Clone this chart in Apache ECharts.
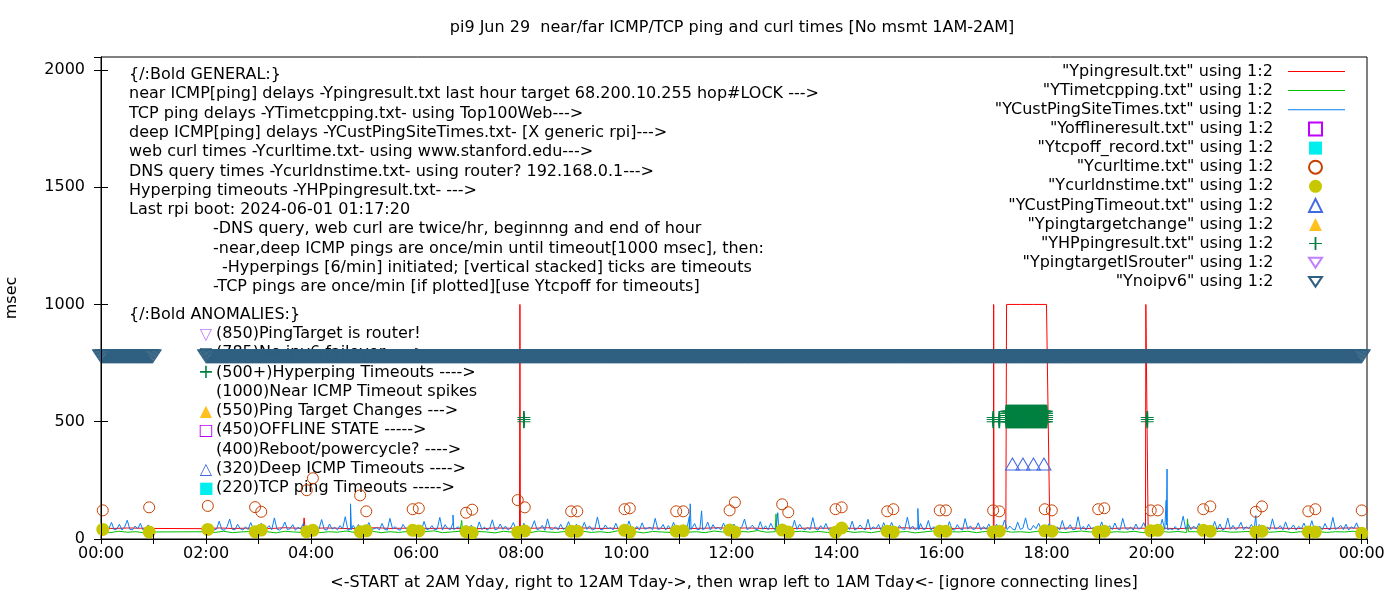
<!DOCTYPE html>
<html><head><meta charset="utf-8">
<script src="https://cdn.jsdelivr.net/npm/echarts@6/dist/echarts.min.js"></script>
<style>html,body{margin:0;padding:0;background:#fff}#c{width:1400px;height:600px}</style>
</head><body><div id="c"></div>
<script>
// ---------------- DATA ----------------
const titleText = 'pi9 Jun 29  near/far ICMP/TCP ping and curl times [No msmt 1AM-2AM]';
const xAxisName = '<-START at 2AM Yday, right to 12AM Tday->, then wrap left to 1AM Tday<- [ignore connecting lines]';
const yAxisName = 'msec';

const seriesNames = [
  '"Ypingresult.txt" using 1:2',
  '"YTimetcpping.txt" using 1:2',
  '"YCustPingSiteTimes.txt" using 1:2',
  '"Yofflineresult.txt" using 1:2',
  '"Ytcpoff_record.txt" using 1:2',
  '"Ycurltime.txt" using 1:2',
  '"Ycurldnstime.txt" using 1:2',
  '"YCustPingTimeout.txt" using 1:2',
  '"Ypingtargetchange" using 1:2',
  '"YHPpingresult.txt" using 1:2',
  '"YpingtargetISrouter" using 1:2',
  '"Ynoipv6" using 1:2'
];

const generalLines = [
  '{/:Bold GENERAL:}',
  'near ICMP[ping] delays -Ypingresult.txt last hour target 68.200.10.255 hop#LOCK --->',
  'TCP ping delays -YTimetcpping.txt- using Top100Web--->',
  'deep ICMP[ping] delays -YCustPingSiteTimes.txt- [X generic rpi]--->',
  'web curl times -Ycurltime.txt- using www.stanford.edu--->',
  'DNS query times -Ycurldnstime.txt- using router? 192.168.0.1--->',
  'Hyperping timeouts -YHPpingresult.txt- --->',
  'Last rpi boot: 2024-06-01 01:17:20',
  '-DNS query, web curl are twice/hr, beginnng and end of hour',
  '-near,deep ICMP pings are once/min until timeout[1000 msec], then:',
  '-Hyperpings [6/min] initiated; [vertical stacked] ticks are timeouts',
  '-TCP pings are once/min [if plotted][use Ytcpoff for timeouts]'
];
const anomalyTitle = '{/:Bold ANOMALIES:}';
const anomalyLines = [
  '(850)PingTarget is router!',
  '(785)No ipv6 failover ---->',
  '(500+)Hyperping Timeouts ---->',
  '(1000)Near ICMP Timeout spikes',
  '(550)Ping Target Changes --->',
  '(450)OFFLINE STATE ----->',
  '(400)Reboot/powercycle? ---->',
  '(320)Deep ICMP Timeouts ---->',
  '(220)TCP ping Timeouts ----->'
];
const anomalyGlyphs = ['▽','▽','+','','▲','□','','△','■'];

// near ICMP (red) sampled every 15 min from 00:00, null = no measurement
const redBase = [
46,45,47,46, 45,null,null,null, 44,47,45,46, 46,45,48,46,
45,47,46,44, 46,48,45,46, 47,45,46,45, 46,44,47,46,
45,46,48,45, 46,47,45,46, 44,46,47,45, 46,45,46,48,
45,47,46,44, 46,45,47,46, 47,46,45,46, 45,48,46,45,
46,45,47,46, 45,1000,1000,1000, 1000,46,47,45, 46,45,47,46,
45,46,44,47, 46,45,46,48, 45,47,46,45, 46,44,46,47,
46];
const redEvents = [
  ['03:51',46],['03:52',90],['03:53',46],
  ['07:58',46],['07:58.5',1000],['07:59',46],
  ['16:59.2',46],['16:59.6',1000],['17:00.2',46],
  ['17:13.5',46],['17:14.3',1000],['17:59.9',1000],['18:03.7',46],
  ['19:53',46],['19:53.4',1000],['19:56',46]
];

// TCP ping (green) sampled every 10 min
const greenBase = [
31,27,33,29,31,26, 30,null,null,null,null,null, 31,28,33,27,30,32, 29,31,26,33,30,28,
32,27,31,29,34,28, 30,33,27,31,28,32, 29,31,35,27,30,33, 28,32,30,26,33,29,
31,27,34,30,28,32, 30,33,28,31,27,35, 29,31,26,32,30,28, 33,29,31,27,34,30,
28,32,30,36,29,31, 27,31,33,29,32,28, 30,34,28,31,27,33, 31,29,32,26,30,34,
28,31,30,33,27,32, 30,36,29,31,28,33, 29,32,27,31,34,30, 32,28,31,29,33,27,
30,33,29,32,28,31, 27,31,34,29,30,32, 31,28,30,33,27,31, 29,32,28,31,30,33,
30];
const greenEvents = [
  ['06:51',31],['06:52',79],['06:53',31],
  ['12:50',31],['12:51',107],['12:52',31],
  ['17:08',31],['17:09',55],['17:10',31],
  ['20:40',31],['20:41',86],['20:42',31]
];

// deep ICMP (blue) sampled every 3 min
const blueBase = [
40,58,37,44,71,39,42,63,38,51,80,41,39,55,43,67,38,46,60,41,
null,null,null,null,null,null,null,null,null,null,null,null,null,null,null,null,null,null,null,null,
39,47,58,38,42,76,40,37,53,85,41,39,63,44,38,52,40,70,43,39,
41,68,38,45,57,39,90,42,38,47,72,40,44,61,37,50,42,66,39,45,
40,55,39,43,83,41,38,64,42,50,39,57,44,95,38,41,58,40,62,43,
37,49,70,40,44,48,39,66,41,38,88,43,53,40,38,62,45,41,57,39,
41,49,38,75,40,43,57,39,42,92,38,61,45,40,68,37,52,42,46,58,
44,59,40,38,73,41,51,38,46,82,39,43,64,41,55,38,48,70,40,45,
38,67,42,39,49,78,40,44,58,37,86,43,40,52,39,63,41,47,74,40,
45,63,39,42,71,41,56,38,43,94,42,39,60,44,48,39,67,41,52,40,
40,77,43,39,54,38,69,42,45,50,39,88,41,44,62,38,57,42,71,40,
38,57,44,40,96,41,66,39,42,55,45,72,38,61,43,49,39,68,41,58,
41,64,38,43,52,85,40,47,59,43,39,74,41,56,39,67,44,40,53,45,
39,55,42,38,80,41,63,45,39,49,40,91,43,38,57,42,66,39,48,44,
44,68,39,41,53,40,76,38,45,60,46,39,84,40,52,43,62,38,70,41,
38,71,42,39,58,44,40,93,41,55,39,47,66,41,43,79,38,52,45,60,
43,50,39,74,41,38,61,44,38,87,42,56,40,45,69,39,53,41,64,40,
42,63,39,45,81,40,55,43,38,72,41,46,90,43,39,58,44,67,40,52,
39,66,44,40,52,38,79,41,45,61,39,42,95,40,54,38,63,44,49,41,
41,73,38,44,57,40,68,43,39,88,45,41,51,38,64,42,47,70,39,55,
40,59,42,38,84,41,70,44,39,53,38,46,97,41,62,40,55,43,66,39,
43,56,39,41,75,40,64,38,45,89,41,58,40,47,71,39,52,44,62,40,
38,62,44,40,51,39,86,42,46,57,39,73,41,45,60,38,54,43,68,41,
41,78,38,43,55,40,66,44,39,92,41,48,58,40,63,38,52,45,69,41,
40];
const blueEvents = [
  ['04:44',40],['04:45',150],['04:46',40],
  ['06:41',40],['06:42',102],['06:43',40],
  ['11:12',40],['11:13',150],['11:14',40],
  ['11:25',40],['11:26',120],['11:27',40],
  ['12:52',40],['12:53',112],['12:54',40],
  ['15:32',40],['15:33',130],['15:34',40],
  ['20:16',40],['20:16.6',165],['20:17',60],['20:17.6',298],['20:18.2',40],
  ['21:58',40],['21:59',100],['22:00',40]
];

// web curl (circles) and DNS query (dots), same timestamps
const curlTimes = ['00:02','00:55','02:02','02:56','03:03','03:55','04:02','04:56','05:03','05:56','06:03','06:57','07:04','07:56','08:04','08:57','09:04','09:58','10:04','10:57','11:05','11:58','12:04','12:58','13:05','13:59','14:06','14:58','15:05','15:58','16:05','16:59','17:06','17:58','18:06','18:59','19:06','19:59','20:07','20:59','21:07','21:59','22:06','22:59','23:07','24:00'];
const curlValues = [122,135,141,136,116,208,259,186,118,127,131,112,125,166,135,118,118,127,131,118,118,122,156,148,114,127,135,118,127,122,122,122,118,127,122,127,131,122,122,127,139,116,139,118,127,122];
const dnsValues  = [41,30,41,31,38,31,37,31,35,37,34,31,27,29,34,33,33,37,30,33,35,38,30,38,30,29,47,33,30,33,33,30,33,35,33,30,33,35,37,37,33,30,33,30,30,24];

// deep ICMP timeouts
const deepTimeoutTimes = ['17:21','17:33','17:45','17:57'];
const deepTimeoutValue = 320;

// hyperping timeouts: [minute, number of stacked timeouts]
const hpLevels = [500,509,518,527,536,545];
const hpBursts = [
  ['08:03',3],['16:59',3],['17:06',3],
  ['17:14',6],['17:15',6],['17:16',6],['17:17',6],['17:18',6],['17:19',6],['17:20',6],['17:21',6],['17:22',6],['17:23',6],
  ['17:24',6],['17:25',6],['17:26',6],['17:27',6],['17:28',6],['17:29',6],['17:30',6],['17:31',6],['17:32',6],['17:33',6],
  ['17:34',6],['17:35',6],['17:36',6],['17:37',6],['17:38',6],['17:39',6],['17:40',6],['17:41',6],['17:42',6],['17:43',6],
  ['17:44',6],['17:45',6],['17:46',6],['17:47',6],['17:48',6],['17:49',6],['17:50',6],['17:51',6],['17:52',6],['17:53',6],
  ['17:54',6],['17:55',6],['17:56',6],['17:57',6],['17:58',6],['17:59',6],['18:00',6],
  ['19:55',3]
];

// no-ipv6 status: recorded once per minute during these spans
const noipv6Spans = [['00:00','00:59'],['02:00','24:00']];
const noipv6Value = 785;

// ---------------- BUILD ----------------
const FONT = 'DejaVu Sans';
const FS = 16;
const hrs = s => { const p = s.split(':'); return (+p[0]) + (+p[1]) / 60; };
const sampled = (vals, stepMin) => vals.map((v, i) => [i * stepMin / 60, v]);
const merge = (base, ev) => base.concat(ev.map(e => [hrs(e[0]), e[1]])).sort((a, b) => a[0] - b[0]);

const redData = merge(sampled(redBase, 15), redEvents);
const greenData = merge(sampled(greenBase, 10), greenEvents);
const blueData = merge(sampled(blueBase, 3), blueEvents);
const curlData = curlTimes.map((t, i) => [hrs(t), curlValues[i]]);
const dnsData = curlTimes.map((t, i) => [hrs(t), dnsValues[i]]);
const deepData = deepTimeoutTimes.map(t => [hrs(t), deepTimeoutValue]);
const hpData = [];
hpBursts.forEach(([t, n]) => { for (let k = 0; k < n; k++) hpData.push([hrs(t), hpLevels[k]]); });
const noipv6Data = [];
noipv6Spans.forEach(([a, b]) => { for (let m = Math.round(hrs(a) * 60); m <= Math.round(hrs(b) * 60); m++) noipv6Data.push([m / 60, noipv6Value]); });

const CLEAR = 'rgba(0,0,0,0)';
const PLUS = 'path://M0,6L13,6L13,7L0,7ZM5.6,0L7.4,0L7.4,13L5.6,13Z';
const TRI_DOWN = 'path://M0,0L16,0L8,12Z';

const lineS = (name, color, data, connect) => ({
  name, type: 'line', data, symbol: 'none', showSymbol: false, connectNulls: connect,
  lineStyle: { color, width: 1 }, itemStyle: { color }, z: 2, animation: false, silent: true
});
const scat = (name, symbol, size, fill, stroke, data, extra) => Object.assign({
  name, type: 'scatter', data, symbol, symbolSize: size,
  itemStyle: { color: fill, borderColor: stroke || fill, borderWidth: stroke ? 1 : 0, opacity: 1 },
  progressive: 0, large: false, z: 3, animation: false, silent: true
}, extra || {});

const series = [
  lineS(seriesNames[0], '#ff0000', redData, true),
  lineS(seriesNames[1], '#00c000', greenData, true),
  lineS(seriesNames[2], '#0a7ff5', blueData, false),
  scat(seriesNames[3], 'rect', 12, CLEAR, '#c000ff', []),
  scat(seriesNames[4], 'rect', 12, '#00eeee', null, []),
  scat(seriesNames[5], 'circle', 11, CLEAR, '#c84000', curlData),
  scat(seriesNames[6], 'circle', 13, '#c8c800', null, dnsData),
  scat(seriesNames[7], 'triangle', [14, 12], CLEAR, '#4169e1', deepData),
  scat(seriesNames[8], 'triangle', [15, 13], '#ffc020', null, []),
  scat(seriesNames[9], PLUS, 13, '#008040', null, hpData),
  scat(seriesNames[10], TRI_DOWN, [15, 12], CLEAR, '#c080ff', []),
  scat(seriesNames[11], TRI_DOWN, [17, 13], CLEAR, '#306080', noipv6Data, { symbolOffset: [0, 1.5], z: 4 }),
  // carrier for the mirrored top / right tick axes
  { type: 'line', name: '_mirror', xAxisIndex: 1, yAxisIndex: 1, data: [], silent: true }
];

// text annotations
const graphic = [];
const txtStyle = (t, fill, size, align) => ({ text: t, fill, fontSize: size, fontFamily: FONT, verticalAlign: 'middle', align });
const genY0 = 75, genStep = 19.27, genIndent = [0,0,0,0,0,0,0,0,84,84,93,84];
generalLines.forEach((t, i) => graphic.push({
  type: 'text', x: 129 + genIndent[i], y: genY0 + genStep * i, z: 1, silent: true, style: txtStyle(t, '#000', FS, 'left')
}));
graphic.push({ type: 'text', x: 129, y: 315, z: 1, silent: true, style: txtStyle(anomalyTitle, '#000', FS, 'left') });
const glyphColors = ['#c080ff','#306080','#008040','','#ffc020','#c000ff','','#4169e1','#00eeee'];
anomalyLines.forEach((t, i) => {
  const y = 334 + 19.25 * i;
  graphic.push({ type: 'text', x: 216, y, z: 1, silent: true, style: txtStyle(t, '#000', FS, 'left') });
  if (anomalyGlyphs[i]) graphic.push({ type: 'text', x: 206, y: y + 1, z: 1, silent: true,
    style: txtStyle(anomalyGlyphs[i], glyphColors[i], anomalyGlyphs[i] === '+' ? 19 : 16, 'center') });
});

const axisTxt = { color: '#000', fontSize: FS, fontFamily: FONT };
const xFmt = v => { const r = Math.round(v); return (Math.abs(v - r) < 1e-6 && r % 2 === 0) ? String(r % 24).padStart(2, '0') + ':00' : ''; };
const yFmt = v => (v % 500 === 0) ? String(v) : '';
const black = { color: '#000', width: 1 };
const legendText = { fontSize: FS, fontFamily: FONT, color: '#000' };

const option = {
  animation: false,
  backgroundColor: '#fff',
  textStyle: { fontFamily: FONT },
  title: { text: titleText, left: 727, top: 15, textAlign: 'center',
    textStyle: { fontSize: FS, fontWeight: 'normal', fontFamily: FONT, color: '#000' } },
  grid: { left: 101, right: 33, top: 57, bottom: 61, show: true, borderColor: '#000', borderWidth: 1,
    backgroundColor: 'rgba(0,0,0,0)', containLabel: false, outerBoundsMode: 'none' },
  legend: [
    { orient: 'vertical', right: 55, top: 63.5, align: 'right', padding: 0,
      itemWidth: 57, itemHeight: 1, itemGap: 3.1, selectedMode: false, icon: 'rect',
      textStyle: legendText, formatter: n => n + '  ', data: seriesNames.slice(0, 3) },
    { orient: 'vertical', right: 77, top: 121, align: 'right', padding: 0,
      itemWidth: 13, itemHeight: 13, itemGap: 3.1, selectedMode: false,
      textStyle: legendText, formatter: n => n + '      ', data: seriesNames.slice(3) }
  ],
  xAxis: [
    { type: 'value', min: 0, max: 24.1, interval: 1, position: 'bottom', z: 10,
      axisLine: { show: true, lineStyle: black }, axisTick: { show: true, inside: true, length: 5, lineStyle: black },
      axisLabel: Object.assign({ formatter: xFmt, margin: 7, showMaxLabel: false }, axisTxt), splitLine: { show: false },
      name: xAxisName, nameLocation: 'middle', nameGap: 36, nameTextStyle: axisTxt },
    { type: 'value', min: 0, max: 24.1, interval: 1, position: 'top', z: 10,
      axisLine: { show: true, lineStyle: black }, axisTick: { show: true, inside: true, length: 5, lineStyle: black },
      axisLabel: { show: false }, splitLine: { show: false } }
  ],
  yAxis: [
    { type: 'value', min: 0, max: 2055, interval: 500, position: 'left', z: 10,
      axisLine: { show: true, lineStyle: black }, axisTick: { show: true, inside: true, length: 7, lineStyle: black },
      axisLabel: Object.assign({ formatter: yFmt, margin: 16, showMaxLabel: false }, axisTxt), splitLine: { show: false },
      name: yAxisName, nameLocation: 'middle', nameGap: 81, nameRotate: 90, nameTextStyle: axisTxt },
    { type: 'value', min: 0, max: 2055, interval: 500, position: 'right', z: 10,
      axisLine: { show: true, lineStyle: black }, axisTick: { show: true, inside: true, length: 7, lineStyle: black },
      axisLabel: { show: false }, splitLine: { show: false } }
  ],
  graphic,
  series
};
const chart = echarts.init(document.getElementById('c'), null, { renderer: 'canvas' });
chart.setOption(option);
</script></body></html>
